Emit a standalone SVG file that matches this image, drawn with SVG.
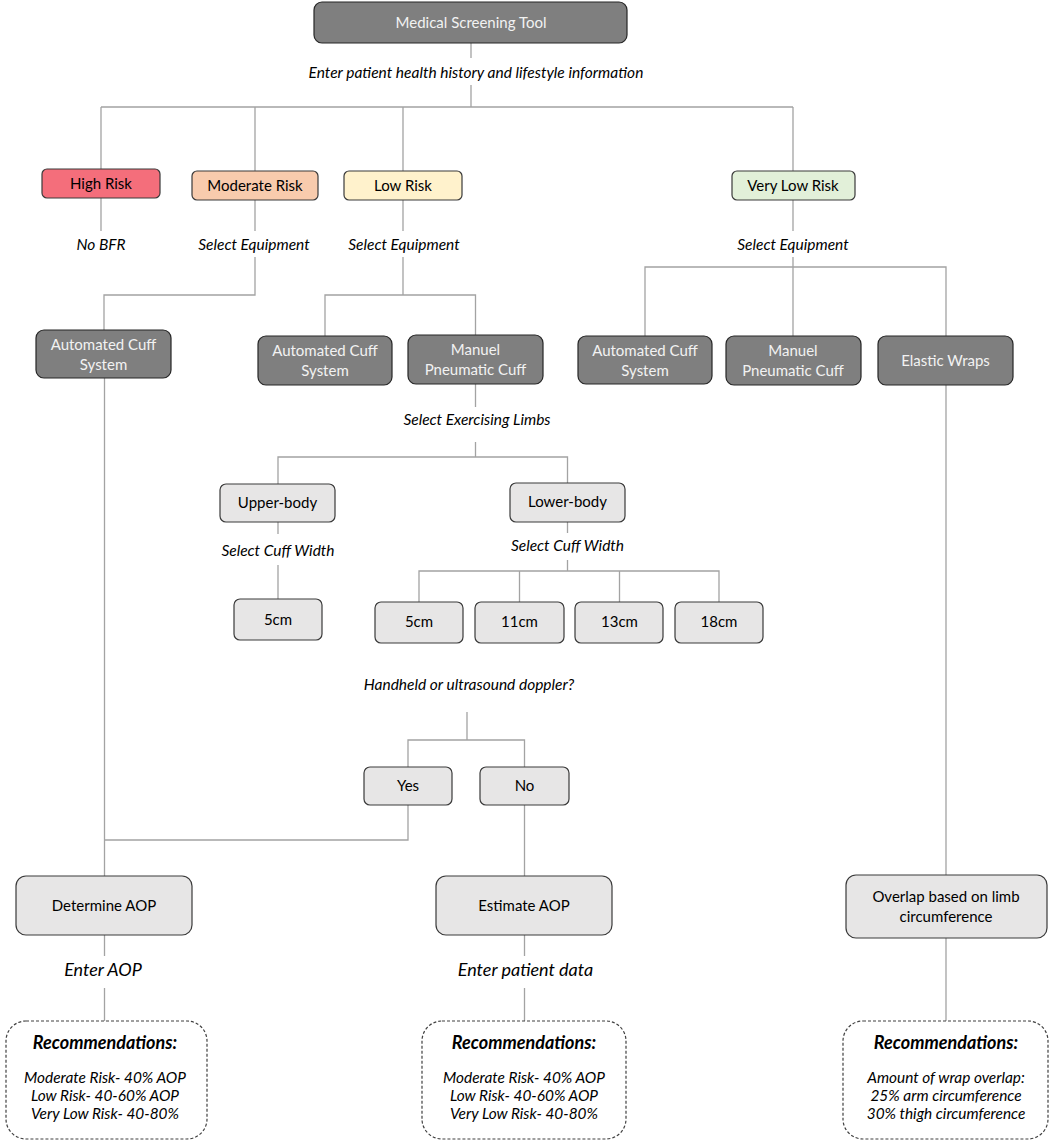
<svg xmlns="http://www.w3.org/2000/svg" width="1052" height="1142" viewBox="0 0 1052 1142">
<style>
text{font-family:Lato,"Liberation Sans",sans-serif;text-anchor:middle}
.c{fill:none;stroke:#a3a3a3;stroke-width:1.3}
.dk{fill:#7f7f7f;stroke:#262626;stroke-width:1.2}
.lt{fill:#e7e6e6;stroke:#3a3a3a;stroke-width:1.2}
.rec{fill:#fff;stroke:#404040;stroke-width:1.2;stroke-dasharray:3 2}
.wt{fill:#f2f2f2;font-size:15px}
.bt{fill:#000;font-size:15px}
.lb{fill:#000;font-size:15.5px;font-style:italic}
.big{fill:#000;font-size:18px;font-style:italic}
.rh{fill:#000;font-size:18px;font-style:italic;font-weight:bold}
.rl{fill:#000;font-size:15.4px;font-style:italic}
</style>
<rect width="1052" height="1142" fill="#fff"/>
<g id="connectors">
<path class="c" d="M471 43V58M471 85V107M101 107H793M101 107V169M255 107V171M403 107V171M793 107V171"/>
<path class="c" d="M101 198V231M255 200V231M403 200V231M793 200V231"/>
<path class="c" d="M255 257V295H104V330M403 257V295M325 336V295H475.5V335M793 257V267M645 336V267H946V336M793 267V336"/>
<path class="c" d="M475.5 384V407M475.5 442V457M278 484V457H567.5V483"/>
<path class="c" d="M278 522V534M278 565V599M567.5 522V533M567.5 560V571M419 602V571H719V602M519.5 571V602M619.5 571V602"/>
<path class="c" d="M467 712V740M408 767V740H524.5V767M408 805V840H104.5M104.5 378V876M524.5 805V876M946 385V875"/>
<path class="c" d="M104.5 935V956M104.5 988V1021M524.5 935V956M524.5 988V1021M946 938V1021"/>
</g>
<g id="n-top"><rect class="dk" x="314" y="2" width="313" height="41" rx="8"/><text class="wt" x="471" y="28">Medical Screening Tool</text></g>
<text class="lb" x="476" y="78">Enter patient health history and lifestyle information</text>
<g id="n-high"><rect x="42" y="169" width="118" height="29" rx="5" fill="#f46e7b" stroke="#3a3a3a" stroke-width="1.2"/><text class="bt" x="101" y="189">High Risk</text></g>
<g id="n-mod"><rect x="192" y="171" width="126" height="29" rx="5" fill="#f8cbad" stroke="#3a3a3a" stroke-width="1.2"/><text class="bt" x="255" y="191">Moderate Risk</text></g>
<g id="n-low"><rect x="344" y="171" width="118" height="29" rx="5" fill="#fff2cc" stroke="#3a3a3a" stroke-width="1.2"/><text class="bt" x="403" y="191">Low Risk</text></g>
<g id="n-vlow"><rect x="732" y="171" width="123" height="29" rx="5" fill="#e2f0d9" stroke="#3a3a3a" stroke-width="1.2"/><text class="bt" x="793" y="191">Very Low Risk</text></g>
<text class="lb" x="101" y="250">No BFR</text>
<text class="lb" x="254" y="250">Select Equipment</text>
<text class="lb" x="404" y="250">Select Equipment</text>
<text class="lb" x="793" y="250">Select Equipment</text>
<g id="n-auto1"><rect class="dk" x="36" y="330" width="135" height="48" rx="8"/><text class="wt" x="103.5" y="350">Automated Cuff</text><text class="wt" x="103.5" y="370">System</text></g>
<g id="n-auto2"><rect class="dk" x="258" y="336" width="134" height="49" rx="8"/><text class="wt" x="325" y="356">Automated Cuff</text><text class="wt" x="325" y="376">System</text></g>
<g id="n-man2"><rect class="dk" x="408" y="335" width="135" height="49" rx="8"/><text class="wt" x="475.5" y="355">Manuel</text><text class="wt" x="475.5" y="375">Pneumatic Cuff</text></g>
<g id="n-auto3"><rect class="dk" x="578" y="336" width="134" height="48" rx="8"/><text class="wt" x="645" y="356">Automated Cuff</text><text class="wt" x="645" y="376">System</text></g>
<g id="n-man3"><rect class="dk" x="726" y="336" width="135" height="49" rx="8"/><text class="wt" x="793" y="356">Manuel</text><text class="wt" x="793" y="376">Pneumatic Cuff</text></g>
<g id="n-elastic"><rect class="dk" x="878" y="336" width="135" height="49" rx="8"/><text class="wt" x="945.5" y="366">Elastic Wraps</text></g>
<text class="lb" x="477" y="425">Select Exercising Limbs</text>
<g id="n-upper"><rect class="lt" x="220" y="484" width="115" height="38" rx="6"/><text class="bt" x="277.5" y="508">Upper-body</text></g>
<g id="n-lower"><rect class="lt" x="510" y="483" width="115" height="39" rx="6"/><text class="bt" x="567.5" y="507">Lower-body</text></g>
<text class="lb" x="278" y="556">Select Cuff Width</text>
<text class="lb" x="567.5" y="551">Select Cuff Width</text>
<g id="n-u5"><rect class="lt" x="234" y="599" width="88" height="41" rx="6"/><text class="bt" x="278" y="625">5cm</text></g>
<g id="n-l5"><rect class="lt" x="375" y="602" width="88" height="41" rx="6"/><text class="bt" x="419" y="627">5cm</text></g>
<g id="n-l11"><rect class="lt" x="475" y="602" width="89" height="41" rx="6"/><text class="bt" x="519.5" y="627">11cm</text></g>
<g id="n-l13"><rect class="lt" x="575" y="602" width="88" height="41" rx="6"/><text class="bt" x="619.5" y="627">13cm</text></g>
<g id="n-l18"><rect class="lt" x="675" y="602" width="88" height="41" rx="6"/><text class="bt" x="719" y="627">18cm</text></g>
<text class="lb" x="469" y="690">Handheld or ultrasound doppler?</text>
<g id="n-yes"><rect class="lt" x="364" y="767" width="88" height="38" rx="6"/><text class="bt" x="408" y="791">Yes</text></g>
<g id="n-no"><rect class="lt" x="480" y="767" width="89" height="38" rx="6"/><text class="bt" x="524.5" y="791">No</text></g>
<g id="n-det"><rect class="lt" x="16" y="876" width="176" height="59" rx="10"/><text class="bt" x="104" y="911">Determine AOP</text></g>
<g id="n-est"><rect class="lt" x="436" y="876" width="176" height="59" rx="10"/><text class="bt" x="524" y="911">Estimate AOP</text></g>
<g id="n-overlap"><rect class="lt" x="846" y="875" width="201" height="63" rx="10"/><text class="bt" x="946" y="902">Overlap based on limb</text><text class="bt" x="946" y="922">circumference</text></g>
<text class="big" x="103" y="976">Enter AOP</text>
<text class="big" x="525.5" y="976">Enter patient data</text>
<g id="n-rec1"><rect class="rec" x="6" y="1021" width="201" height="118" rx="20"/><text class="rh" x="105" y="1049">Recommendations:</text><text class="rl" x="105" y="1083">Moderate Risk- 40% AOP</text><text class="rl" x="105" y="1101">Low Risk- 40-60% AOP</text><text class="rl" x="105" y="1119">Very Low Risk- 40-80%</text></g>
<g id="n-rec2"><rect class="rec" x="422" y="1021" width="204" height="118" rx="20"/><text class="rh" x="524" y="1049">Recommendations:</text><text class="rl" x="524" y="1083">Moderate Risk- 40% AOP</text><text class="rl" x="524" y="1101">Low Risk- 40-60% AOP</text><text class="rl" x="524" y="1119">Very Low Risk- 40-80%</text></g>
<g id="n-rec3"><rect class="rec" x="843" y="1021" width="205" height="118" rx="20"/><text class="rh" x="946" y="1049">Recommendations:</text><text class="rl" x="946" y="1083">Amount of wrap overlap:</text><text class="rl" x="946" y="1101">25% arm circumference</text><text class="rl" x="946" y="1119">30% thigh circumference</text></g>
</svg>
